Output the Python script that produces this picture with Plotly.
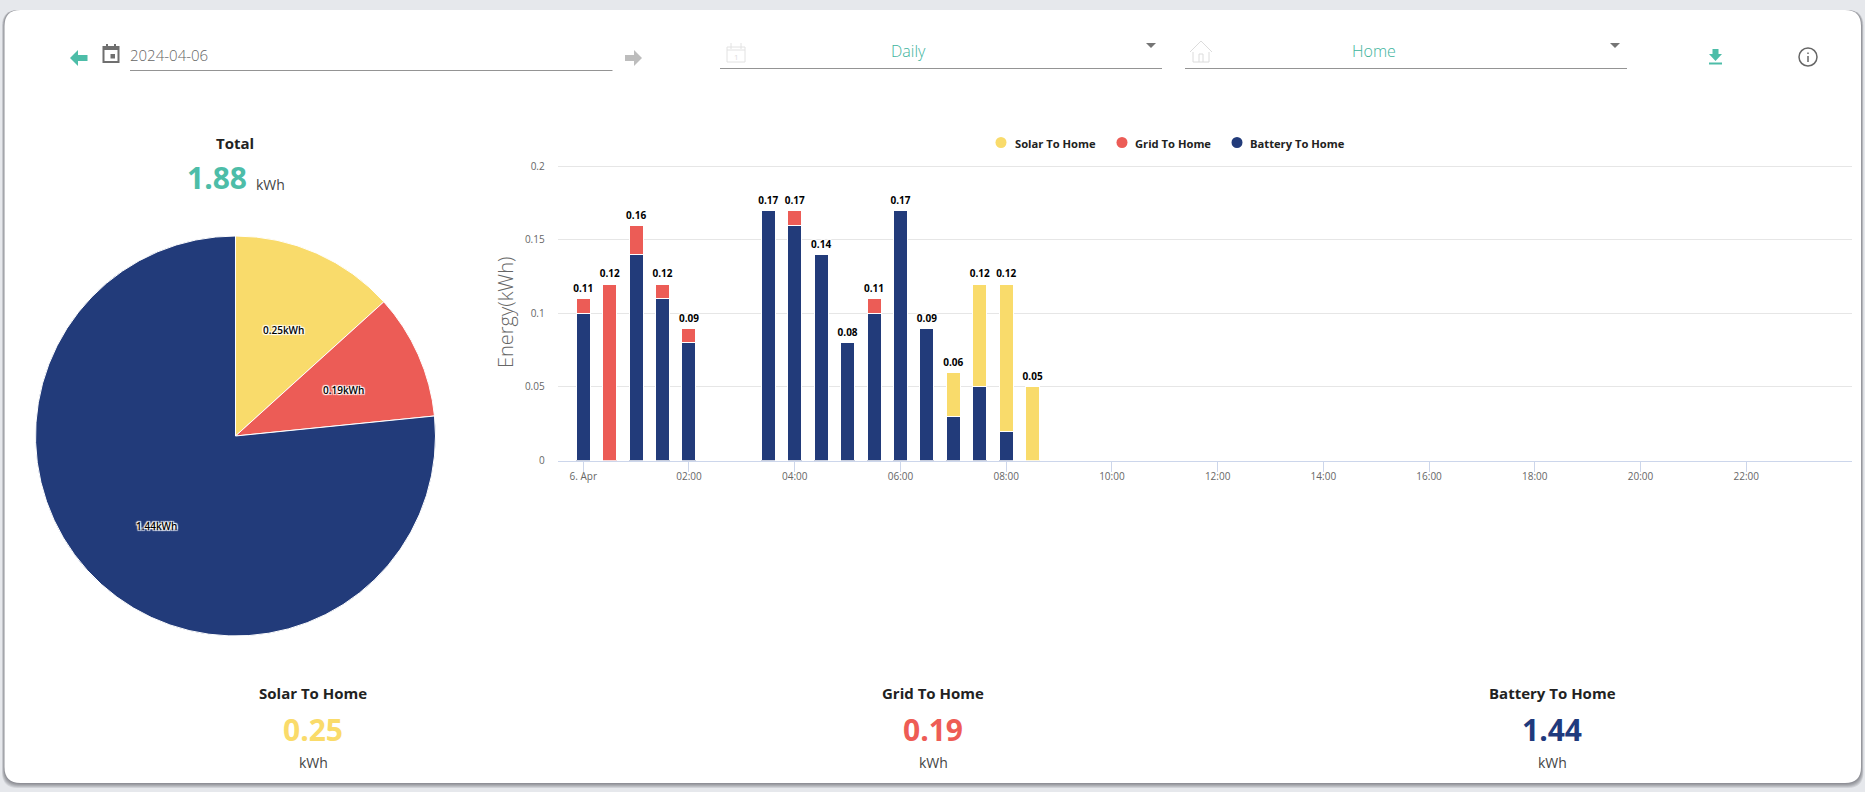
import math

import numpy as np
import plotly.graph_objects as go

W = 1865
H = 792
FONT = "Open Sans"
TEAL = "#4dbda8"
YELLOW = "#f9db6b"
RED = "#ec5c56"
NAVY = "#223b7a"

# half hour readings, kWh
times = [
    "00:00", "00:30", "01:00", "01:30", "02:00",
    "03:30", "04:00", "04:30", "05:00", "05:30", "06:00", "06:30",
    "07:00", "07:30", "08:00", "08:30",
]
solar = [0, 0, 0, 0, 0, 0, 0, 0, 0, 0, 0, 0, 0.03, 0.07, 0.10, 0.05]
grid = [0.01, 0.12, 0.02, 0.01, 0.01, 0, 0.01, 0, 0, 0.01, 0, 0, 0, 0, 0, 0]
battery = [0.10, 0, 0.14, 0.11, 0.08, 0.17, 0.16, 0.14, 0.08, 0.10, 0.17, 0.09, 0.03, 0.05, 0.02, 0]

names = ["Solar To Home", "Grid To Home", "Battery To Home"]
colors = [YELLOW, RED, NAVY]
pie_values = [0.25, 0.19, 1.44]
total_energy = 1.88

x_tick_vals = [f"2024-04-06 {h:02d}:00" for h in range(0, 24, 2)]
x_tick_text = ["6. Apr"] + [f"{h:02d}:00" for h in range(2, 24, 2)]
y_tick_vals = [0, 0.05, 0.1, 0.15, 0.2]
y_tick_text = ["0", "0.05", "0.1", "0.15", "0.2"]


def px(x):
    return x / W


def py(y):
    return 1 - y / H


def rounded(x0, y0, x1, y1, r):
    pts = [
        f"M{px(x0 + r)},{py(y0)}", f"L{px(x1 - r)},{py(y0)}",
        f"Q{px(x1)},{py(y0)} {px(x1)},{py(y0 + r)}", f"L{px(x1)},{py(y1 - r)}",
        f"Q{px(x1)},{py(y1)} {px(x1 - r)},{py(y1)}", f"L{px(x0 + r)},{py(y1)}",
        f"Q{px(x0)},{py(y1)} {px(x0)},{py(y1 - r)}", f"L{px(x0)},{py(y0 + r)}",
        f"Q{px(x0)},{py(y0)} {px(x0 + r)},{py(y0)}", "Z",
    ]
    return " ".join(pts)


def poly(points):
    return "M" + " L".join(f"{px(x)},{py(y)}" for x, y in points) + " Z"


def add_poly(fig, points, color):
    fig.add_shape(type="path", xref="paper", yref="paper", path=poly(points),
                  fillcolor=color, line=dict(width=0))


def add_line(fig, x0, y0, x1, y1, color, width=1):
    fig.add_shape(type="line", xref="paper", yref="paper", x0=px(x0), y0=py(y0),
                  x1=px(x1), y1=py(y1), line=dict(color=color, width=width))


def add_box(fig, x0, y0, x1, y1, line=None, fill=None, width=1):
    fig.add_shape(type="rect", xref="paper", yref="paper", x0=px(x0), y0=py(y0),
                  x1=px(x1), y1=py(y1), fillcolor=fill or "rgba(0,0,0,0)",
                  line=dict(color=line or "rgba(0,0,0,0)", width=width))


def add_text(fig, x, y, text, size, color, weight=400, anchor="center", shadow=None, angle=0):
    fig.add_annotation(
        xref="paper", yref="paper", x=px(x), y=py(y), text=text, showarrow=False,
        xanchor=anchor, yanchor="middle", textangle=angle,
        font=dict(family=FONT, size=size, color=color, weight=weight, shadow=shadow or "none"),
    )


outline = "1px 1px 1px #fff, -1px -1px 1px #fff, 1px -1px 1px #fff, -1px 1px 1px #fff, 0 0 2px #fff"

fig = go.Figure()

x_vals = [f"2024-04-06 {t}" for t in times]
series = [(names[2], battery, NAVY), (names[1], grid, RED), (names[0], solar, YELLOW)]
for name, values, color in series:
    fig.add_trace(go.Bar(
        x=x_vals,
        y=[v or None for v in values],
        name=name,
        width=14 * 3600000 / 52.87,
        marker=dict(color=color, line=dict(color="#ffffff", width=1)),
        showlegend=False,
    ))

# stack totals above the bars, the clear marker only lifts the text
totals = np.round(np.array(solar) + np.array(grid) + np.array(battery), 2)
fig.add_trace(go.Scatter(
    x=x_vals,
    y=totals,
    mode="markers+text",
    marker=dict(size=5, opacity=0),
    text=[f"{t:.2f}" for t in totals],
    textposition="top center",
    textfont=dict(family=FONT, size=10, color="#000000", weight=700, shadow=outline),
    showlegend=False,
))

fig.add_trace(go.Pie(
    labels=names,
    values=pie_values,
    sort=False,
    direction="clockwise",
    rotation=0,
    textinfo="none",
    marker=dict(colors=colors, line=dict(color="#ffffff", width=1)),
    domain=dict(x=[px(35.5), px(435.5)], y=[py(636), py(236)]),
    showlegend=False,
))

# card background with a soft shadow
for off in [5, 4, 3, 2, 1]:
    fig.add_shape(type="path", xref="paper", yref="paper", layer="below",
                  path=rounded(4.5 - off / 2, 10, 1861 + off / 2, 783 + off, 16),
                  fillcolor="rgba(40,40,50,0.11)", line=dict(width=0))
fig.add_shape(type="path", xref="paper", yref="paper", layer="below",
              path=rounded(4.5, 10, 1861, 783, 16), fillcolor="#ffffff", line=dict(width=0))

# pie labels, placed from the slice mid angles
start = 0
for value in pie_values:
    mid = (start + value / 2) / sum(pie_values) * 2 * math.pi
    start += value
    add_text(fig, 235.5 + 118 * math.sin(mid), 438 - 118 * math.cos(mid),
             f"{value:.2f}kWh", 10, "#000000", 600, shadow=outline)

# legend
for cx, tx, name, color in zip([1001, 1122, 1237], [1013, 1133, 1248], names, colors):
    fig.add_shape(type="circle", xref="paper", yref="paper", x0=px(cx - 5.5), y0=py(142.5 + 5.5),
                  x1=px(cx + 5.5), y1=py(142.5 - 5.5), fillcolor=color, line=dict(width=0))
    add_text(fig, tx, 143, name, 11.2, "#222222", 700, anchor="left")

# axis title
add_text(fig, 505, 313, "Energy(kWh)", 20, "#666666", 300, angle=-90)

# total block
add_text(fig, 235.5, 143, "Total", 15, "#222222", 700)
add_text(fig, 217, 178, f"{total_energy:.2f}", 30, TEAL, 700)
add_text(fig, 270, 185, "kWh", 14, "#444444")

# bottom stats
for cx, name, value, color in zip([313, 933, 1552], names, pie_values, ["#fadb6a", "#ee5c55", "#1f3a7d"]):
    add_text(fig, cx, 693, name, 15, "#222222", 700)
    add_text(fig, cx, 729, f"{value:.2f}", 30, color, 700)
    add_text(fig, cx, 762, "kWh", 14, "#444444")

# date picker row
add_poly(fig, [(70, 58), (78, 50), (78, 55), (87.5, 55), (87.5, 61), (78, 61), (78, 66)], TEAL)
add_box(fig, 103.5, 47, 118.5, 62, line="#6f6f6f", width=2)
add_box(fig, 103.5, 46, 118.5, 50, fill="#6f6f6f")
add_box(fig, 106, 44, 108, 47, fill="#6f6f6f")
add_box(fig, 114, 44, 116, 47, fill="#6f6f6f")
add_box(fig, 110.5, 54, 115, 58.5, fill="#6f6f6f")
add_text(fig, 128, 55, "2024-04-06", 15, "#666666", 300, anchor="left")
add_line(fig, 130, 70.5, 612.5, 70.5, "#949494", 1)
add_poly(fig, [(642, 58), (634, 50), (634, 55), (625, 55), (625, 61), (634, 61), (634, 66)], "#bdbdbd")

# dropdowns
add_box(fig, 727, 47, 745, 62, line="#e2e2e2")
add_line(fig, 727, 50, 745, 50, "#e2e2e2")
add_line(fig, 731, 43, 731, 49, "#e2e2e2")
add_line(fig, 741, 43, 741, 49, "#e2e2e2")
add_text(fig, 736, 56, "1", 8, "#dddddd")
add_text(fig, 908, 51, "Daily", 16, "#3db39c", 300)
add_poly(fig, [(1146, 43), (1156, 43), (1151, 48)], "#757575")
add_line(fig, 720, 68.5, 1162, 68.5, "#949494", 1)

add_poly(fig, [(1190, 52), (1201, 41), (1212, 52), (1209, 52), (1209, 62), (1193, 62), (1193, 52)], "#ffffff")
for a, b in [((1190, 52), (1201, 41)), ((1201, 41), (1212, 52)), ((1193, 52), (1193, 62)),
             ((1209, 52), (1209, 62)), ((1193, 62), (1209, 62)), ((1199, 62), (1199, 54)),
             ((1203, 62), (1203, 54)), ((1199, 54), (1203, 54))]:
    add_line(fig, a[0], a[1], b[0], b[1], "#dcdcdc")
add_text(fig, 1373.5, 51, "Home", 16, "#3db39c", 300)
add_poly(fig, [(1610, 43), (1620, 43), (1615, 48)], "#757575")
add_line(fig, 1185, 68.5, 1627, 68.5, "#949494", 1)

# download and info icons
add_poly(fig, [(1712.5, 49), (1718.5, 49), (1718.5, 54), (1722, 54), (1715.5, 61), (1709, 54), (1712.5, 54)], TEAL)
add_box(fig, 1709, 62.5, 1722, 64.5, fill=TEAL)
fig.add_shape(type="circle", xref="paper", yref="paper", x0=px(1799), y0=py(66), x1=px(1817), y1=py(48),
              line=dict(color="#666666", width=1.5), fillcolor="rgba(0,0,0,0)")
add_line(fig, 1808, 56, 1808, 62, "#666666", 1.5)
add_line(fig, 1808, 52.5, 1808, 54, "#666666", 1.5)

fig.update_layout(
    width=W,
    height=H,
    margin=dict(l=0, r=0, t=0, b=0, autoexpand=False),
    paper_bgcolor="#e6e8ec",
    plot_bgcolor="rgba(0,0,0,0)",
    barmode="stack",
    hovermode=False,
    font=dict(family=FONT),
    xaxis=dict(
        domain=[px(557.7), px(1852)],
        type="date",
        automargin=False,
        range=["2024-04-05 23:31", "2024-04-07 00:00"],
        tickmode="array",
        tickvals=x_tick_vals,
        ticktext=x_tick_text,
        tickfont=dict(family=FONT, size=10, color="#666666"),
        ticks="outside",
        ticklen=10,
        tickcolor="#ccd6eb",
        ticklabelstandoff=-4,
        showgrid=False,
        showline=True,
        linecolor="#ccd6eb",
        zeroline=False,
    ),
    yaxis=dict(
        # headroom above 0.2, plotly drops a grid line within 1px of the edge
        domain=[py(460.5), py(165)],
        range=[0, 0.201],
        automargin=False,
        tickmode="array",
        tickvals=y_tick_vals,
        ticktext=y_tick_text,
        tickfont=dict(family=FONT, size=10, color="#666666"),
        ticklabelstandoff=12,
        gridcolor="#e6e6e6",
        zeroline=False,
        showline=False,
    ),
)

fig.write_html(
    "out.html",
    config=dict(displayModeBar=False),
    post_script="document.body.style.margin='0';document.body.style.overflow='hidden';",
)
